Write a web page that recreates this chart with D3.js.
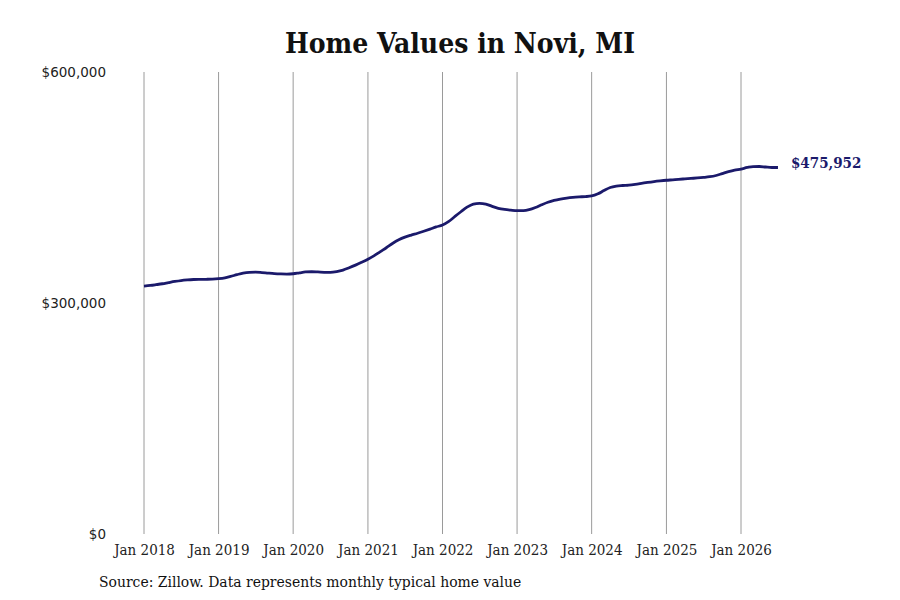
<!DOCTYPE html>
<html>
<head>
    <title>Home Values in Novi, MI</title>
    <style>
        html, body {
            margin: 0;
            padding: 0;
            background-color: #ffffff;
        }
        .serif {
            font-family: 'DejaVu Serif Condensed', 'DejaVu Serif', serif;
            font-stretch: condensed;
        }
        .y-label {
            font-family: 'DejaVu Sans', sans-serif;
            font-size: 13.5px;
            fill: #222;
        }
    </style>
</head>
<body>
    <div id="chart"></div>

    <script src="https://cdnjs.cloudflare.com/ajax/libs/d3/7.6.1/d3.min.js"></script>
    <script>
        // monthly typical home value, Jan 2018 .. Jul 2026
        const startMonth = "2018-01";
        const homeValues = [
            322000, 322800, 323800, 325000, 326500, 328000, 329200, 330000, 330500, 330700, 330800, 331000,
            331600, 332700, 334500, 336800, 338800, 339800, 340000, 339500, 338800, 338200, 337800, 337600,
            338000, 339200, 340300, 340600, 340300, 339900, 339800, 340800, 342800, 345800, 349200, 352800,
            356800, 361500, 366500, 371800, 377200, 382000, 385500, 388200, 390600, 393200, 396000, 398800,
            401300, 406000, 412000, 418500, 424500, 428500, 429500, 428500, 425500, 423000, 421500, 420600,
            419900, 420000, 421200, 424000, 427500, 430800, 433200, 435000, 436300, 437200, 437800, 438200,
            439000, 441800, 446000, 450000, 451800, 452600, 453200, 454200, 455400, 456600, 457700, 458600,
            459400, 460000, 460600, 461200, 461800, 462400, 463100, 464000, 465600, 468000, 470500, 472500,
            474000, 476000, 477200, 477300, 476600, 476000, 475952
        ];
        const xTickYears = [2018, 2019, 2020, 2021, 2022, 2023, 2024, 2025, 2026];
        const yTickValues = [0, 300000, 600000];

        const width = 900, height = 600;
        const margin = { top: 72, right: 121, bottom: 66, left: 144 };

        const parseMonth = d3.timeParse("%Y-%m");
        const start = parseMonth(startMonth);
        const series = homeValues.map((v, i) => ({ date: d3.timeMonth.offset(start, i), value: v }));

        const svg = d3.select("#chart")
            .append("svg")
            .attr("width", width)
            .attr("height", height);

        const xScale = d3.scaleTime()
            .domain([new Date(2018, 0, 1), new Date(2026, 0, 1)])
            .range([margin.left, 741]);

        const yScale = d3.scaleLinear()
            .domain([0, 600000])
            .range([height - margin.bottom, margin.top]);

        // vertical gridlines
        svg.append("g")
            .selectAll("line")
            .data(xTickYears)
            .enter()
            .append("line")
            .attr("x1", d => xScale(new Date(d, 0, 1)))
            .attr("x2", d => xScale(new Date(d, 0, 1)))
            .attr("y1", yScale(600000))
            .attr("y2", yScale(0))
            .attr("stroke", "#9a9a9a")
            .attr("stroke-width", 1);

        // x axis labels
        const xAxis = d3.axisBottom(xScale)
            .tickValues(xTickYears.map(y => new Date(y, 0, 1)))
            .tickFormat(d3.timeFormat("Jan %Y"))
            .tickSize(0)
            .tickPadding(10);

        const gx = svg.append("g")
            .attr("transform", "translate(0," + yScale(0) + ")")
            .call(xAxis);
        gx.select(".domain").remove();
        gx.selectAll("text")
            .attr("class", "serif")
            .attr("font-size", "15px")
            .attr("fill", "#222");

        // y axis labels
        const yAxis = d3.axisLeft(yScale)
            .tickValues(yTickValues)
            .tickFormat(d => "$" + d3.format(",")(d))
            .tickSize(0)
            .tickPadding(38);

        const gy = svg.append("g")
            .attr("transform", "translate(" + margin.left + ",0)")
            .call(yAxis);
        gy.select(".domain").remove();
        gy.selectAll("text")
            .attr("class", "y-label")
            .attr("font-size", null)
            .attr("font-family", null);

        // value line
        const line = d3.line()
            .x(d => xScale(d.date))
            .y(d => yScale(d.value))
            .curve(d3.curveMonotoneX);

        svg.append("path")
            .datum(series)
            .attr("fill", "none")
            .attr("stroke", "#1b1a6b")
            .attr("stroke-width", 2.8)
            .attr("stroke-linejoin", "round")
            .attr("d", line);

        // end label
        const last = series[series.length - 1];
        svg.append("text")
            .attr("class", "serif")
            .attr("x", xScale(last.date) + 13)
            .attr("y", yScale(last.value))
            .attr("dy", "0.05em")
            .attr("font-size", "15px")
            .attr("font-weight", "bold")
            .attr("fill", "#1b1a6b")
            .text("$" + d3.format(",")(last.value));

        // title
        svg.append("text")
            .attr("class", "serif")
            .attr("x", 460)
            .attr("y", 53)
            .attr("text-anchor", "middle")
            .attr("font-size", "28px")
            .attr("font-weight", "bold")
            .attr("fill", "#111")
            .text("Home Values in Novi, MI");

        // source note
        svg.append("text")
            .attr("class", "serif")
            .attr("x", 99)
            .attr("y", 587)
            .attr("font-size", "15.5px")
            .attr("fill", "#111")
            .text("Source: Zillow. Data represents monthly typical home value");
    </script>
</body>
</html>
